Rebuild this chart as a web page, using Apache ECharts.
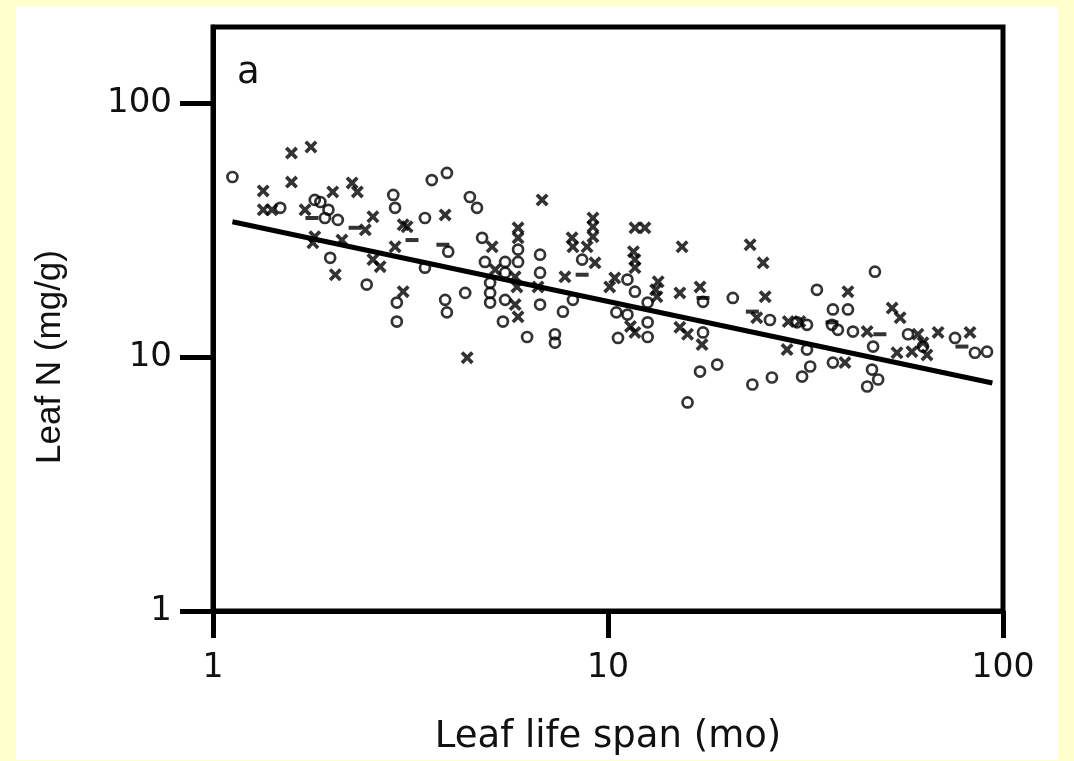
<!DOCTYPE html>
<html><head><meta charset="utf-8">
<script src="https://cdn.jsdelivr.net/npm/echarts@6/dist/echarts.min.js"></script>
<style>
html,body{margin:0;padding:0;background:#FFFFCC;width:1074px;height:761px;overflow:hidden;}
#panel{position:absolute;left:16px;top:6px;width:1042px;height:754px;background:#fff;}
#chart{position:absolute;left:0;top:0;width:1074px;height:761px;}
</style></head>
<body>
<div id="panel"></div>
<div id="chart"></div>
<script>
// Leaf life span (months) vs leaf N (mg/g), log-log
const circleX = [1.12,1.48,1.81,1.87,1.96,1.92,2.07,2.86,2.89,1.98,2.45,2.92,2.92,3.58,3.91,4.47,4.66,3.44,3.94,3.44,4.80,3.87,3.91,4.35,4.88,5.03,5.03,5.03,5.49,5.49,5.49,5.42,5.92,5.92,6.73,6.73,6.73,7.69,8.15,8.60,11.2,11.7,10.5,11.2,12.6,12.6,10.6,12.6,17.4,20.7,25.7,17.4,30.1,15.9,23.2,26.0,31.0,32.5,37.1,45.3,48.3,46.6,46.9,31.9,17.1,18.9,33.8,47.4,37.1,40.5,31.9,36.9,38.2,41.7,57.5,62.7,75.6,84.9,91.1,6.24,7.34,7.34];
const circleY = [51.2,38.7,41.6,40.8,38.0,35.3,34.7,43.5,38.7,24.6,19.3,16.4,13.8,49.8,53.1,42.7,38.7,35.3,26.0,22.5,29.5,16.8,15.0,17.9,23.7,19.6,17.9,16.4,23.7,21.5,16.8,13.8,26.5,23.7,25.3,21.5,16.1,15.1,16.8,24.2,20.2,18.1,15.0,14.7,13.7,12.0,11.9,16.4,16.5,17.1,14.0,12.5,13.7,6.63,7.80,8.31,8.38,9.18,9.51,7.66,8.16,8.93,11.0,10.7,8.77,9.34,18.4,21.7,15.4,15.4,13.4,13.4,12.8,12.6,12.3,11.0,11.9,10.4,10.5,12.0,12.3,11.4];
const crossX = [1.58,1.77,1.58,1.34,1.34,1.41,1.71,2.01,2.25,2.32,2.54,2.43,3.03,2.89,1.79,1.81,2.12,2.04,2.54,2.65,3.03,3.87,3.10,6.81,5.92,5.92,5.09,5.18,5.82,5.88,5.82,5.92,6.65,7.78,9.16,9.16,9.16,8.11,8.15,8.85,9.27,11.7,12.4,11.6,11.7,11.7,10.4,10.1,11.4,11.7,13.4,13.2,13.3,15.2,15.4,17.1,22.9,24.7,23.8,25.0,15.2,15.9,17.3,28.6,28.4,39.8,40.5,30.6,45.3,52.4,54.9,60.9,62.7,53.9,58.8,64.2,68.5,82.5,4.40];
const crossY = [63.6,67.2,48.9,45.1,38.0,38.0,38.0,44.7,48.5,44.7,35.7,31.7,33.2,27.2,28.2,29.8,28.9,21.1,24.2,22.7,18.1,36.3,32.6,41.6,32.3,29.5,27.2,22.1,20.7,18.9,16.1,14.4,18.9,20.7,35.3,32.6,29.8,29.5,27.2,27.2,23.5,32.3,32.3,26.0,24.2,22.5,20.5,18.9,13.2,12.5,19.8,18.4,17.3,17.9,27.2,18.9,27.7,23.5,14.3,17.3,13.1,12.3,11.2,13.8,10.7,9.51,18.1,13.8,12.6,15.6,14.3,12.3,11.4,10.4,10.5,10.2,12.5,12.5,9.95];
const dashX = [3.19,3.82,8.60,17.4,23.2,48.8,78.7,36.9,1.78,2.29];
const dashY = [28.9,27.7,21.1,17.1,15.1,12.3,11.0,13.7,35.3,32.3];
const fitX = [1.12, 94];
const fitY = [34.1, 7.91];
const tickValues = [1, 10, 100];
const panelLabel = 'a';
const xTitle = 'Leaf life span (mo)';
const yTitle = 'Leaf N (mg/g)';

const zip = (a, b) => a.map((v, i) => [v, b[i]]);
const ink = '#000';
const crossPath = 'path://M0,2L2,0L5,3L8,0L10,2L7,5L10,8L8,10L5,7L2,10L0,8L3,5Z';

const chart = echarts.init(document.getElementById('chart'), null, {renderer: 'canvas'});
chart.setOption({
  animation: false,
  backgroundColor: 'transparent',
  grid: {left: 213, right: 71, top: 27, bottom: 149, show: true, borderColor: ink, borderWidth: 5, backgroundColor: 'transparent'},
  title: {text: panelLabel, left: 232, top: 50, textStyle: {fontFamily: 'DejaVu Sans', fontSize: 37, fontWeight: 'normal', color: '#111'}},
  xAxis: {
    type: 'log', logBase: 10, min: 1, max: 100,
    axisLine: {show: true, lineStyle: {color: ink, width: 5}},
    axisTick: {show: true, inside: false, length: 27, lineStyle: {color: ink, width: 5}, customValues: tickValues},
    axisLabel: {margin: 41, fontFamily: 'DejaVu Sans', fontSize: 33, color: '#111', customValues: tickValues},
    minorTick: {show: false}, splitLine: {show: false},
    name: xTitle, nameLocation: 'middle', nameGap: 108,
    nameTextStyle: {fontFamily: 'DejaVu Sans', fontSize: 37, color: '#111'}
  },
  yAxis: {
    type: 'log', logBase: 10, min: 1, max: 199.5,
    axisLine: {show: true, lineStyle: {color: ink, width: 5}},
    axisTick: {show: true, inside: false, length: 33, lineStyle: {color: ink, width: 5}, customValues: tickValues},
    axisLabel: {margin: 41, fontFamily: 'DejaVu Sans', fontSize: 34, color: '#111', customValues: tickValues},
    minorTick: {show: false}, splitLine: {show: false},
    name: yTitle, nameLocation: 'middle', nameGap: 145, nameRotate: 90,
    nameTextStyle: {fontFamily: 'Liberation Sans', fontSize: 35, color: '#111', padding: [0, 76, 0, 0]}
  },
  series: [
    {type: 'line', data: zip(fitX, fitY), symbol: 'none', lineStyle: {color: ink, width: 5}, z: 3},
    {type: 'scatter', data: zip(circleX, circleY), symbol: 'circle', symbolSize: 10,
     itemStyle: {color: 'rgba(0,0,0,0)', borderColor: ink, borderWidth: 2.7}, z: 4},
    {type: 'scatter', data: zip(crossX, crossY), symbol: crossPath, symbolSize: 13,
     itemStyle: {color: ink}, z: 4},
    {type: 'scatter', data: zip(dashX, dashY), symbol: 'rect', symbolSize: [13, 4],
     itemStyle: {color: ink}, z: 4}
  ]
});
</script>
</body></html>
